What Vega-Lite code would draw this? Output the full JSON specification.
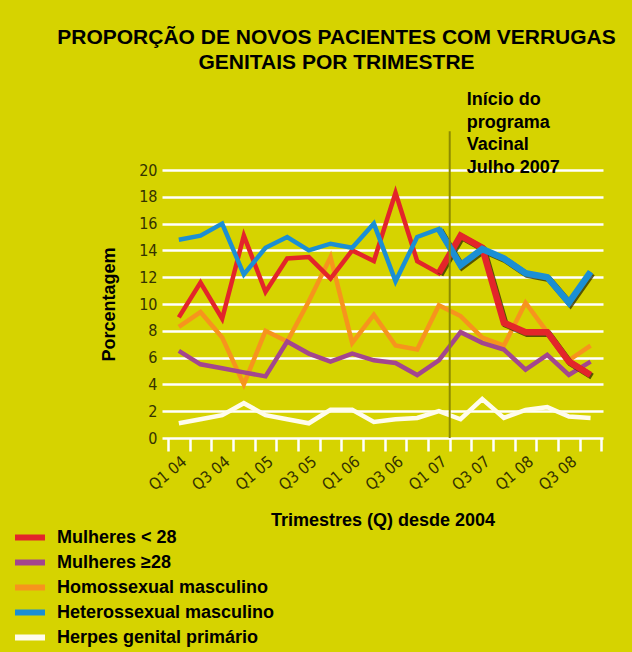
{
  "$schema": "https://vega.github.io/schema/vega-lite/v6.json",
  "width": 441,
  "height": 268,
  "autosize": "none",
  "padding": {"left": 162, "top": 170, "right": 29, "bottom": 214},
  "background": "#d6d300",
  "config": {
    "view": {"stroke": null},
    "font": "Liberation Sans",
    "axisY": {"tickCount": 20, "labelOverlap": false}
  },
  "title": {
    "text": ["PROPORÇÃO DE NOVOS PACIENTES COM VERRUGAS", "GENITAIS POR TRIMESTRE"],
    "font": "Liberation Sans",
    "fontSize": 21,
    "fontWeight": "bold",
    "color": "black",
    "anchor": "middle",
    "frame": "group",
    "dx": -46,
    "dy": 20,
    "baseline": "bottom",
    "lineHeight": 25,
    "offset": 17
  },
  "datasets": {
    "d": [
      {"q": "Q1 04", "Mulheres < 28": 9.0, "Mulheres ≥28": 6.5, "Homossexual masculino": 8.3, "Heterossexual masculino": 14.8, "Herpes genital primário": 1.1},
      {"q": "Q2 04", "Mulheres < 28": 11.6, "Mulheres ≥28": 5.5, "Homossexual masculino": 9.4, "Heterossexual masculino": 15.1, "Herpes genital primário": 1.4},
      {"q": "Q3 04", "Mulheres < 28": 8.9, "Mulheres ≥28": 5.2, "Homossexual masculino": 7.5, "Heterossexual masculino": 16.0, "Herpes genital primário": 1.7},
      {"q": "Q4 04", "Mulheres < 28": 15.1, "Mulheres ≥28": 4.9, "Homossexual masculino": 4.0, "Heterossexual masculino": 12.2, "Herpes genital primário": 2.6},
      {"q": "Q1 05", "Mulheres < 28": 10.9, "Mulheres ≥28": 4.6, "Homossexual masculino": 8.0, "Heterossexual masculino": 14.2, "Herpes genital primário": 1.7},
      {"q": "Q2 05", "Mulheres < 28": 13.4, "Mulheres ≥28": 7.2, "Homossexual masculino": 7.2, "Heterossexual masculino": 15.0, "Herpes genital primário": 1.4},
      {"q": "Q3 05", "Mulheres < 28": 13.5, "Mulheres ≥28": 6.3, "Homossexual masculino": 10.2, "Heterossexual masculino": 14.0, "Herpes genital primário": 1.1},
      {"q": "Q4 05", "Mulheres < 28": 11.9, "Mulheres ≥28": 5.7, "Homossexual masculino": 13.5, "Heterossexual masculino": 14.5, "Herpes genital primário": 2.1},
      {"q": "Q1 06", "Mulheres < 28": 14.0, "Mulheres ≥28": 6.3, "Homossexual masculino": 7.1, "Heterossexual masculino": 14.2, "Herpes genital primário": 2.1},
      {"q": "Q2 06", "Mulheres < 28": 13.2, "Mulheres ≥28": 5.8, "Homossexual masculino": 9.2, "Heterossexual masculino": 16.0, "Herpes genital primário": 1.2},
      {"q": "Q3 06", "Mulheres < 28": 18.3, "Mulheres ≥28": 5.6, "Homossexual masculino": 6.9, "Heterossexual masculino": 11.7, "Herpes genital primário": 1.4},
      {"q": "Q4 06", "Mulheres < 28": 13.2, "Mulheres ≥28": 4.7, "Homossexual masculino": 6.6, "Heterossexual masculino": 15.0, "Herpes genital primário": 1.5},
      {"q": "Q1 07", "Mulheres < 28": 12.3, "Mulheres ≥28": 5.8, "Homossexual masculino": 9.9, "Heterossexual masculino": 15.6, "Herpes genital primário": 2.0},
      {"q": "Q2 07", "Mulheres < 28": 15.1, "Mulheres ≥28": 7.9, "Homossexual masculino": 9.1, "Heterossexual masculino": 12.9, "Herpes genital primário": 1.4},
      {"q": "Q3 07", "Mulheres < 28": 14.2, "Mulheres ≥28": 7.1, "Homossexual masculino": 7.5, "Heterossexual masculino": 14.1, "Herpes genital primário": 2.9},
      {"q": "Q4 07", "Mulheres < 28": 8.6, "Mulheres ≥28": 6.6, "Homossexual masculino": 6.9, "Heterossexual masculino": 13.4, "Herpes genital primário": 1.5},
      {"q": "Q1 08", "Mulheres < 28": 7.9, "Mulheres ≥28": 5.1, "Homossexual masculino": 10.1, "Heterossexual masculino": 12.3, "Herpes genital primário": 2.1},
      {"q": "Q2 08", "Mulheres < 28": 7.9, "Mulheres ≥28": 6.2, "Homossexual masculino": 7.9, "Heterossexual masculino": 12.0, "Herpes genital primário": 2.3},
      {"q": "Q3 08", "Mulheres < 28": 5.7, "Mulheres ≥28": 4.7, "Homossexual masculino": 5.8, "Heterossexual masculino": 10.1, "Herpes genital primário": 1.6},
      {"q": "Q4 08", "Mulheres < 28": 4.7, "Mulheres ≥28": 5.7, "Homossexual masculino": 6.9, "Heterossexual masculino": 12.4, "Herpes genital primário": 1.5}
    ],
    "marco": [{"q": "Q2 07"}]
  },
  "encoding": {
    "x": {
      "field": "q",
      "type": "ordinal",
      "bandPosition": 0.5,
      "scale": {
        "type": "band",
        "domain": ["Q1 04","Q2 04","Q3 04","Q4 04","Q1 05","Q2 05","Q3 05","Q4 05","Q1 06","Q2 06","Q3 06","Q4 06","Q1 07","Q2 07","Q3 07","Q4 07","Q1 08","Q2 08","Q3 08","Q4 08"],
        "paddingInner": 0,
        "paddingOuter": 0.175,
        "align": 0.79
      },
      "axis": {
        "title": "Trimestres (Q) desde 2004",
        "tickBand": "extent",
        "domain": false,
        "grid": false,
        "ticks": true,
        "tickColor": "white",
        "tickWidth": 2.5,
        "tickSize": 13,
        "labelAngle": -40,
        "labelOverlap": false,
        "labelExpr": "test(/^Q[13]/, datum.label) ? datum.label : ''",
        "labelFont": "Liberation Sans Narrow, DejaVu Sans Condensed, Liberation Sans",
        "labelFontSize": 16,
        "labelColor": "#343200",
        "labelPadding": 2,
        "titleFont": "Liberation Sans",
        "titleFontWeight": "bold",
        "titleFontSize": 18,
        "titleColor": "black",
        "titlePadding": 18
      }
    }
  },
  "layer": [
    {
      "data": {"name": "d"},
      "transform": [{"fold": ["Herpes genital primário", "Homossexual masculino", "Mulheres ≥28", "Mulheres < 28", "Heterossexual masculino"], "as": ["serie", "pct"]}],
      "mark": {"type": "line", "strokeWidth": 4.5, "strokeJoin": "miter"},
      "encoding": {
        "y": {
          "field": "pct",
          "type": "quantitative",
          "scale": {"domain": [0, 20], "nice": false},
          "axis": {
            "title": "Porcentagem",
            "values": [0, 2, 4, 6, 8, 10, 12, 14, 16, 18, 20],
            "tickCount": 20,
            "labelOverlap": false,
            "domain": false,
            "ticks": false,
            "grid": true,
            "gridColor": "white",
            "gridWidth": 2.5,
            "gridOpacity": 1,
            "labelFont": "Liberation Sans Narrow, DejaVu Sans Condensed, Liberation Sans",
            "labelFontSize": 16,
            "labelColor": "#343200",
            "labelPadding": 5,
            "titleFont": "Liberation Sans",
            "titleFontWeight": "bold",
            "titleFontSize": 18,
            "titleColor": "black",
            "titlePadding": 20
          }
        },
        "color": {
          "field": "serie",
          "type": "nominal",
          "scale": {
            "domain": ["Mulheres < 28", "Mulheres ≥28", "Homossexual masculino", "Heterossexual masculino", "Herpes genital primário"],
            "range": ["#e3252a", "#a3468e", "#f7941d", "#1b8fd4", "#fffcec"]
          },
          "legend": {
            "orient": "none",
            "legendX": -150,
            "legendY": 355,
            "title": null,
            "padding": 0,
            "symbolType": "stroke",
            "symbolStrokeWidth": 6,
            "symbolSize": 900,
            "clipHeight": 25,
            "labelFont": "Liberation Sans",
            "labelFontSize": 18,
            "labelFontWeight": "bold",
            "labelColor": "black",
            "labelOffset": 9,
            "labelLimit": 400,
            "rowPadding": 0
          }
        }
      }
    },
    {
      "data": {"name": "d"},
      "transform": [
        {"fold": ["Mulheres < 28", "Heterossexual masculino"], "as": ["serie", "pct"]},
        {"filter": {"field": "q", "oneOf": ["Q1 07","Q2 07","Q3 07","Q4 07","Q1 08","Q2 08","Q3 08","Q4 08"]}}
      ],
      "mark": {"type": "line", "strokeWidth": 6.5, "strokeJoin": "miter", "color": "#2b2900", "opacity": 0.75, "xOffset": 1.5, "yOffset": 1.5},
      "encoding": {
        "y": {"field": "pct", "type": "quantitative"},
        "detail": {"field": "serie"}
      }
    },
    {
      "data": {"name": "d"},
      "transform": [
        {"fold": ["Mulheres < 28", "Heterossexual masculino"], "as": ["serie", "pct"]},
        {"filter": {"field": "q", "oneOf": ["Q1 07","Q2 07","Q3 07","Q4 07","Q1 08","Q2 08","Q3 08","Q4 08"]}}
      ],
      "mark": {"type": "line", "strokeWidth": 6.5, "strokeJoin": "miter"},
      "encoding": {
        "y": {"field": "pct", "type": "quantitative"},
        "color": {"field": "serie", "type": "nominal"}
      }
    },
    {
      "data": {"name": "marco"},
      "mark": {"type": "rule", "color": "#8d8b00", "strokeWidth": 2},
      "encoding": {
        "x": {"field": "q", "type": "ordinal", "bandPosition": 0},
        "y": {"datum": 0},
        "y2": {"datum": 22.9}
      }
    },
    {
      "data": {"name": "marco"},
      "mark": {
        "type": "text",
        "text": ["Início do", "programa", "Vacinal", "Julho 2007"],
        "align": "left",
        "baseline": "top",
        "dx": 17,
        "font": "Liberation Sans",
        "fontSize": 18,
        "fontWeight": "bold",
        "lineHeight": 22.7,
        "color": "black"
      },
      "encoding": {
        "x": {"field": "q", "type": "ordinal", "bandPosition": 0},
        "y": {"datum": 25.9}
      }
    }
  ]
}
